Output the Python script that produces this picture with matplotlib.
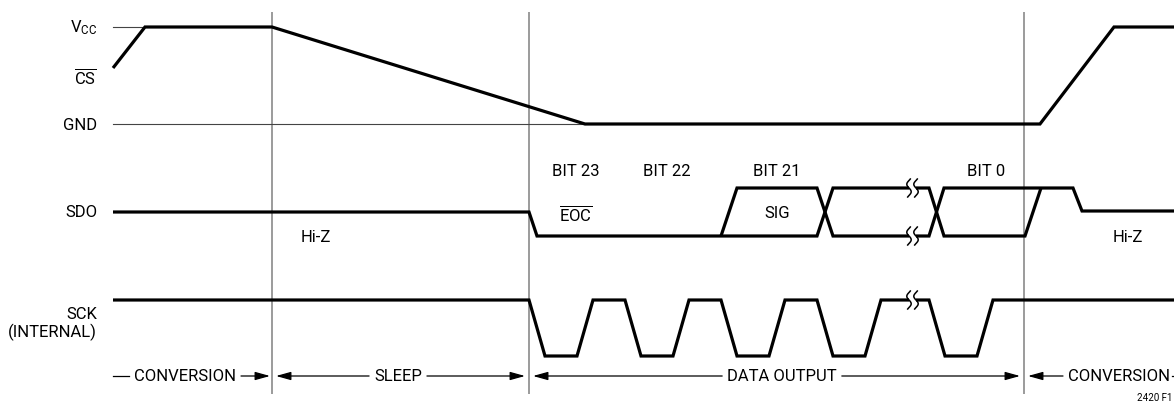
import matplotlib
matplotlib.use("Agg")
import matplotlib.pyplot as plt
from matplotlib import font_manager as fm
import numpy as np

# ---------------- data (pixel-space timing diagram) ----------------
signal_labels = ["V$_{\\mathrm{CC}}$", "$\\overline{\\mathrm{CS}}$", "GND", "SDO", "SCK\n(INTERNAL)"]
label_y = [28, 77, 125, 213, 324]

# CS waveform
cs_x = [113, 145, 272, 585, 1040, 1114, 1174]
cs_y = [69, 28, 28, 125, 125, 28, 28]

# reference levels (thin)
ref_vcc_x = [113, 145]
ref_vcc_y = [28, 28]
ref_gnd_x = [113, 585]
ref_gnd_y = [125, 125]

# SDO waveform pieces
sdo1_x = [113, 529, 537, 817, 833, 909]
sdo1_y = [213, 213, 237, 237, 189, 189]
sdo2_x = [721, 737, 817, 833, 909]
sdo2_y = [237, 189, 189, 237, 237]
sdo3_x = [916, 929, 944, 1025, 1041]
sdo3_y = [189, 189, 237, 237, 189]
sdo4_x = [916, 929, 944, 1073, 1082, 1174]
sdo4_y = [237, 237, 189, 189, 212, 212]

# SCK waveform pieces
sck1_x = [113, 529, 545, 577, 593, 625, 641, 673, 689, 721, 737, 769, 785, 817, 833, 865, 881, 909]
sck1_y = [301, 301, 357, 357, 301, 301, 357, 357, 301, 301, 357, 357, 301, 301, 357, 357, 301, 301]
sck2_x = [916, 929, 945, 977, 993, 1174]
sck2_y = [301, 301, 357, 357, 301, 301]

# break marks (x, y)
break_x = [909, 916]
break_y = [189, 237, 301]

# phase boundaries
phase_x = [272, 529, 1024]

# bit labels
bit_labels = ["BIT 23", "BIT 22", "BIT 21", "BIT 0"]
bit_x = [576, 667, 777, 986]
sub_labels = ["$\\overline{\\mathrm{EOC}}$", "SIG"]
sub_x = [576, 777]
hiz_x = [316, 1128]

# bottom phase row
phase_names = ["CONVERSION", "SLEEP", "DATA OUTPUT", "CONVERSION"]
phase_start = [113, 276, 533, 1028]
phase_end = [270, 525, 1020, 1200]
phase_text_x = [185, 398, 782, 1068]

# ---------------- font ----------------
names = {f.name for f in fm.fontManager.ttflist}
fam = "Roboto" if "Roboto" in names else "Liberation Sans"
plt.rcParams["font.family"] = [fam, "DejaVu Sans"]
plt.rcParams["mathtext.fontset"] = "custom"
plt.rcParams["mathtext.rm"] = fam
plt.rcParams["mathtext.it"] = fam
plt.rcParams["mathtext.bf"] = fam

FS = 12
W, H = 1174, 406
fig = plt.figure(figsize=(W / 100, H / 100), dpi=100)
ax = fig.add_axes([0, 0, 1, 1])
ax.set_xlim(0, W)
ax.set_ylim(H, 0)
ax.axis("off")

THICK = 2.3
THIN = 0.8

# phase vertical lines
for x in phase_x:
    ax.plot([x, x], [13, 395], color="#808080", lw=1.1, solid_capstyle="butt")

# ref lines
ax.plot(ref_vcc_x, ref_vcc_y, color="#444444", lw=THIN)
ax.plot(ref_gnd_x, ref_gnd_y, color="#444444", lw=THIN)

# waveforms
for xs, ys in [(cs_x, cs_y), (sdo1_x, sdo1_y), (sdo2_x, sdo2_y), (sdo3_x, sdo3_y),
               (sdo4_x, sdo4_y), (sck1_x, sck1_y), (sck2_x, sck2_y)]:
    ax.plot(xs, ys, color="black", lw=THICK, solid_joinstyle="miter", solid_capstyle="butt")

# break squiggles
t = np.linspace(-1, 1, 40)
for by in break_y:
    for bx in break_x:
        ax.plot(bx + 2.2 * np.sin(np.pi * t * 1.2), by + 9 * t, color="black", lw=1.1)

# left labels
for lab, y in zip(signal_labels, label_y):
    ax.text(97, y, lab, ha="right", va="center", fontsize=FS, linespacing=1.15)

# bit labels
for lab, x in zip(bit_labels, bit_x):
    ax.text(x, 172, lab, ha="center", va="center", fontsize=FS)
for lab, x in zip(sub_labels, sub_x):
    ax.text(x, 214, lab, ha="center", va="center", fontsize=FS)
for x in hiz_x:
    ax.text(x, 238, "Hi-Z", ha="center", va="center", fontsize=FS)

# bottom phase row
fig.canvas.draw()
r = fig.canvas.get_renderer()
inv = ax.transData.inverted()
ROW_Y = 377
arrow_kw = dict(arrowstyle="-|>,head_length=0.9,head_width=0.25",
                color="black", lw=0.9, shrinkA=0, shrinkB=0)
for i, (name, xs, xe, tx) in enumerate(zip(phase_names, phase_start, phase_end, phase_text_x)):
    last = i == len(phase_names) - 1
    ha = "left" if last else "center"
    txt = ax.text(tx, ROW_Y, name, ha=ha, va="center", fontsize=FS)
    bb = txt.get_window_extent(r)
    x0 = inv.transform((bb.x0, 0))[0]
    x1 = inv.transform((bb.x1, 0))[0]
    if last and x1 > W - 3:
        shift = x1 - (W - 3)
        txt.set_x(tx - shift)
        x0 -= shift
        x1 -= shift
    gap = 5
    if i == 0:
        ax.plot([xs, x0 - gap], [ROW_Y, ROW_Y], color="black", lw=0.9)
    else:
        ax.annotate("", xy=(xs, ROW_Y), xytext=(x0 - gap, ROW_Y), arrowprops=arrow_kw)
    if last:
        ax.plot([x1 + 2, xe], [ROW_Y, ROW_Y], color="black", lw=0.9)
    else:
        ax.annotate("", xy=(xe, ROW_Y), xytext=(x1 + gap, ROW_Y), arrowprops=arrow_kw)

ax.text(1172, 398, "2420 F1", ha="right", va="center", fontsize=7)

fig.savefig("out.png", dpi=100)
